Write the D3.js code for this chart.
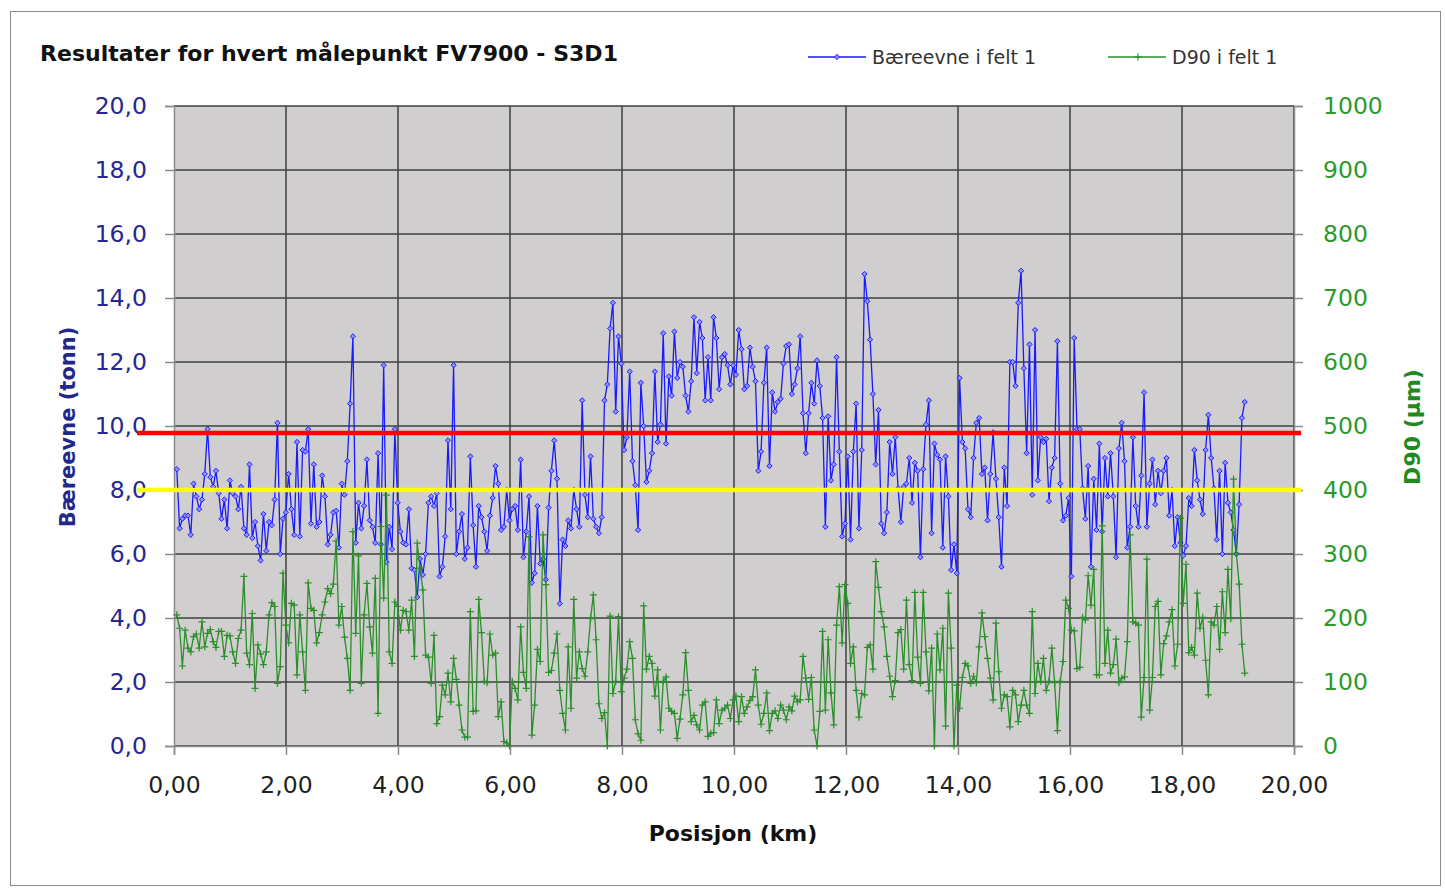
<!DOCTYPE html>
<html>
<head>
<meta charset="utf-8">
<script src="https://d3js.org/d3.v7.min.js"></script>
<style>
  body { margin: 0; background: #fff; }
  svg { font-family: "DejaVu Sans", Verdana, sans-serif; }
</style>
</head>
<body>
<div id="chart"></div>
<script>
// measuring points run from firstKm to lastKm, one value per point
var firstKm = 0.05, lastKm = 19.12;

// Bæreevne i felt 1 (tonn)
var baereevne = [
  8.65, 6.8, 7.1, 7.2, 7.2, 6.6, 8.2, 7.8, 7.4, 7.7, 8.5, 9.9, 8.4, 8.1, 8.6, 7.9, 7.1, 7.7, 6.8, 8.3,
  7.9, 7.8, 7.4, 8.1, 6.8, 6.6, 8.8, 6.5, 7.0, 6.25, 5.8, 7.25, 6.1, 7.0, 6.9, 7.7, 10.1, 6.0, 7.1, 7.3,
  8.5, 7.4, 6.6, 9.5, 6.55, 9.25, 9.2, 9.9, 6.95, 8.8,
  6.85, 7.0, 8.45, 7.8, 6.3, 6.6, 7.3, 7.35, 6.2, 8.2, 7.85, 8.9, 10.7, 12.8, 6.35, 7.6, 6.8, 7.5, 8.95, 7.05,
  6.85, 6.35, 9.15, 6.3, 11.9, 5.75, 6.85, 6.15, 9.9, 7.6, 6.7, 6.35, 6.3, 7.4, 5.55, 5.5, 4.65, 5.85, 5.35, 6.0,
  7.6, 7.8, 7.5, 7.9, 5.3, 5.6, 6.55, 9.55,
  7.4, 11.9, 6.0, 6.7, 7.25, 5.85, 6.2, 9.05, 6.9, 5.6, 7.5, 7.15, 6.7, 6.1, 7.2, 7.75, 8.75, 8.2, 6.75, 6.85,
  8.0, 7.05, 7.4, 7.5, 6.75, 8.95, 5.9, 6.7, 7.8, 5.1, 5.4, 7.5, 5.7, 5.85, 5.2, 7.45, 8.6, 9.55, 8.35, 4.45,
  6.45, 6.25, 7.05, 6.8, 8.0, 7.4, 6.85, 10.8, 7.85,
  7.15, 9.05, 7.1, 6.85, 6.65, 7.15, 10.8, 11.3, 13.05, 13.85, 10.45, 12.8, 11.95, 9.25, 9.65, 11.7, 8.9, 8.15, 6.75, 11.35,
  10.0, 8.25, 8.6, 9.15, 11.7, 9.5, 10.05, 12.9, 9.45, 11.55, 10.95, 12.95, 11.5, 12.0, 11.85, 10.95, 10.45, 11.4, 13.4, 11.65,
  13.25, 12.75, 10.8, 12.15, 10.8, 13.4,
  12.75, 11.15, 12.15, 12.25, 11.9, 11.3, 11.9, 11.6, 13.0, 12.4, 11.15, 11.25, 12.45, 11.85, 11.4, 8.6, 9.2, 11.35, 12.45, 8.75,
  11.05, 10.45, 10.75, 10.85, 11.95, 12.5, 12.55, 11.0, 11.3, 11.8, 12.8, 10.4, 9.15, 10.4, 11.35, 10.7, 12.05, 11.25, 10.25,
  6.85, 10.3, 8.3, 8.8, 12.15, 9.2, 6.55, 6.95, 9.05, 6.45,
  9.2, 10.7, 6.8, 9.25, 14.75, 13.9, 12.7, 11.0, 8.8, 10.5, 6.95, 6.65, 7.3, 9.5, 8.5, 9.65, 8.05, 7.0, 8.1, 8.2,
  9.0, 7.6, 8.85, 8.6, 5.9, 8.65, 10.05, 10.8, 6.65, 9.45, 9.1, 8.95, 6.2, 9.05, 7.8, 5.5, 6.3, 5.4, 11.5, 9.5,
  9.3, 7.4, 7.15, 9.0, 10.1, 10.25, 8.5, 8.7,
  7.05, 8.5, 9.8, 8.35, 7.15, 5.6, 8.7, 7.5, 12.0, 12.0, 11.25, 13.85, 14.85, 11.8, 9.15, 12.55, 7.85, 13.0, 8.3, 9.65,
  9.5, 9.6, 7.65, 8.7, 9.0, 12.65, 8.2, 7.05, 7.2, 7.75, 5.3, 12.75, 9.9, 9.9, 8.05, 7.1, 8.75, 5.6, 8.35, 6.75,
  9.45, 6.7, 9.0, 7.8, 9.15, 7.8, 5.9,
  9.3, 10.1, 8.9, 6.2, 6.85, 9.65, 7.5, 6.85, 8.45, 11.05, 6.85, 8.2, 8.95, 7.55, 8.6, 7.9, 8.6, 9.0, 7.2, 8.0,
  6.25, 7.15, 6.35, 5.95, 6.25, 7.75, 7.5, 9.25, 8.3, 7.7, 7.25, 9.25, 10.35, 9.0, 8.05, 6.45, 8.6, 6.0, 8.85, 7.6,
  7.3, 6.75, 6.0, 7.55, 10.25, 10.75
];

// D90 i felt 1 (µm)
var d90 = [
  205, 184, 125, 181, 153, 147, 171, 175, 153, 194, 155, 176, 182, 163, 154, 179, 179, 140, 173,
  172, 147, 129, 168, 181, 265, 145, 127, 207, 90, 158, 144, 127, 147, 205, 224, 218, 98, 124, 270,
  189, 161, 223, 220, 111, 205, 147, 87, 255,
  215, 212, 161, 177, 205, 225, 246, 238, 253, 320, 189, 218, 170, 137, 87, 335, 176, 297, 98,
  205, 254, 186, 145, 262, 51, 343, 231, 392, 147, 129, 225, 218, 181, 212, 210, 181, 228, 140,
  317, 278, 244, 142, 139, 98, 173, 35, 46, 95,
  80, 114, 69, 137, 104, 64, 25, 14, 14, 210, 54, 55, 229, 177, 101, 99, 175, 142, 145, 46,
  69, 7, 5, 0, 101, 90, 72, 186, 115, 90, 327, 17, 64, 151, 132, 330, 252, 115, 118, 145,
  175, 87, 51, 25, 155, 59, 229, 106, 147,
  121, 109, 147, 199, 236, 166, 66, 43, 52, 0, 203, 82, 101, 202, 85, 106, 120, 163, 137, 41,
  19, 9, 219, 120, 140, 129, 78, 119, 25, 101, 108, 59, 54, 51, 12, 42, 80, 146, 87, 38,
  48, 33, 25, 64, 69, 15, 20,
  21, 72, 35, 56, 59, 64, 43, 72, 78, 38, 77, 51, 61, 71, 77, 119, 64, 34, 51, 83,
  24, 51, 55, 43, 64, 56, 41, 61, 55, 78, 69, 72, 140, 106, 73, 107, 25, 0, 54, 179,
  56, 166, 83, 33, 189, 249, 161, 252,
  223, 129, 155, 87, 45, 82, 80, 154, 158, 120, 288, 248, 210, 186, 140, 109, 77, 102, 177, 182,
  120, 228, 127, 102, 240, 139, 98, 240, 147, 86, 153, 0, 175, 119, 184, 31, 239, 153, 0, 95,
  59, 107, 129, 125, 98, 109, 99, 155,
  208, 171, 137, 106, 72, 192, 116, 59, 80, 77, 30, 87, 80, 38, 64, 87, 64, 51, 210, 82,
  129, 101, 137, 87, 101, 153, 99, 24, 101, 132, 228, 215, 181, 180, 121, 123, 201, 197, 266, 220,
  276, 111, 111, 344, 129, 181, 114, 127, 167, 99,
  106, 108, 163, 330, 194, 192, 189, 45, 107, 292, 56, 107, 218, 226, 111, 160, 172, 194, 213, 125,
  159, 356, 223, 284, 146, 154, 142, 239, 184, 201, 134, 80, 194, 189, 218, 151, 241, 177, 276, 199,
  417, 301, 253, 159, 114
];

var xTicks = [0, 2, 4, 6, 8, 10, 12, 14, 16, 18, 20];
var leftTicks = [0, 2, 4, 6, 8, 10, 12, 14, 16, 18, 20];
var rightTicks = [0, 100, 200, 300, 400, 500, 600, 700, 800, 900, 1000];

// threshold lines (tonn)
var redLevel = 9.78;
var yellowLevel = 8.0;

var title = "Resultater for hvert målepunkt FV7900 - S3D1";
var legendNames = ["Bæreevne i felt 1", "D90 i felt 1"];

var W = 1445, H = 889;
var margin = {top: 106, right: 151, bottom: 143, left: 174},
    width = W - margin.left - margin.right,
    height = H - margin.top - margin.bottom;

var blue = "#1a1aff", green = "#2a8f2a";
var navy = "#262690", darkGreen = "#2a9a2a";

var locale = d3.formatLocale({decimal: ",", thousands: "", grouping: [3], currency: ["", ""]});
var fmt1 = locale.format(".1f"), fmt2 = locale.format(".2f");

var svg = d3.select("#chart")
  .append("svg")
  .attr("width", W)
  .attr("height", H);

// outer chart frame
svg.append("rect")
  .attr("x", 10.5).attr("y", 11.5)
  .attr("width", W - 15).attr("height", H - 15)
  .attr("fill", "#fff")
  .attr("stroke", "#8c8c8c");

var g = svg.append("g")
  .attr("transform", "translate(" + margin.left + "," + margin.top + ")");

var x = d3.scaleLinear().domain([0, 20]).range([0, width]);
var yL = d3.scaleLinear().domain([0, 20]).range([height, 0]);
var yR = d3.scaleLinear().domain([0, 1000]).range([height, 0]);

var step = (lastKm - firstKm) / (baereevne.length - 1);
var pos = baereevne.map(function(d, i) { return firstKm + i * step; });

g.append("rect")
  .attr("width", width).attr("height", height)
  .attr("fill", "#d0cece");

// gridlines
g.append("g").selectAll("line")
  .data(leftTicks)
  .enter().append("line")
  .attr("x1", 0).attr("x2", width)
  .attr("y1", function(d) { return yL(d); })
  .attr("y2", function(d) { return yL(d); })
  .attr("stroke", "#3f3f3f").attr("stroke-width", 1.5);

g.append("g").selectAll("line")
  .data(xTicks.slice(1))
  .enter().append("line")
  .attr("y1", 0).attr("y2", height)
  .attr("x1", function(d) { return x(d); })
  .attr("x2", function(d) { return x(d); })
  .attr("stroke", "#3f3f3f").attr("stroke-width", 1.5);

// axes
var axL = g.append("g")
  .call(d3.axisLeft(yL).tickValues(leftTicks).tickSize(9).tickPadding(18).tickFormat(fmt1));
var axR = g.append("g")
  .attr("transform", "translate(" + width + ",0)")
  .call(d3.axisRight(yR).tickValues(rightTicks).tickSize(9).tickPadding(20).tickFormat(d3.format("d")));
var axB = g.append("g")
  .attr("transform", "translate(0," + height + ")")
  .call(d3.axisBottom(x).tickValues(xTicks).tickSize(9).tickPadding(21).tickFormat(fmt2));

[axL, axR, axB].forEach(function(a) {
  a.selectAll(".domain").attr("stroke", "#8c8c8c").attr("stroke-width", 1.5);
  a.selectAll(".tick line").attr("stroke", "#8c8c8c").attr("stroke-width", 1.5);
  a.selectAll("text").style("font-size", "23.5px").style("font-family", "DejaVu Sans");
});
axL.selectAll("text").attr("fill", navy);
axR.selectAll("text").attr("fill", darkGreen);
axB.selectAll("text").attr("fill", "#222");

// Bæreevne line + diamond markers
g.append("path")
  .datum(baereevne)
  .attr("fill", "none")
  .attr("stroke", blue)
  .attr("stroke-width", 1.3)
  .attr("d", d3.line()
    .x(function(d, i) { return x(pos[i]); })
    .y(function(d) { return yL(d); }));

g.selectAll(".dot")
  .data(baereevne)
  .enter().append("path")
  .attr("class", "dot")
  .attr("d", d3.symbol(d3.symbolSquare).size(14))
  .attr("transform", function(d, i) { return "translate(" + x(pos[i]) + "," + yL(d) + ") rotate(45)"; })
  .attr("fill", "#8f8fff")
  .attr("stroke", blue)
  .attr("stroke-width", 0.9);

// D90 line + cross markers
g.append("path")
  .datum(d90)
  .attr("fill", "none")
  .attr("stroke", green)
  .attr("stroke-width", 1.3)
  .attr("d", d3.line()
    .x(function(d, i) { return x(pos[i]); })
    .y(function(d) { return yR(d); }));

g.selectAll(".dot2")
  .data(d90)
  .enter().append("path")
  .attr("class", "dot2")
  .attr("d", "M-3.5,0H3.5M0,-3.5V3.5")
  .attr("transform", function(d, i) { return "translate(" + x(pos[i]) + "," + yR(d) + ")"; })
  .attr("stroke", green)
  .attr("stroke-width", 1.2);

// threshold lines, they run a bit past the plot area
g.append("line")
  .attr("x1", -37).attr("x2", width + 7)
  .attr("y1", yL(redLevel)).attr("y2", yL(redLevel))
  .attr("stroke", "#ff0000").attr("stroke-width", 4.5);
g.append("line")
  .attr("x1", -37).attr("x2", width + 7)
  .attr("y1", yL(yellowLevel)).attr("y2", yL(yellowLevel))
  .attr("stroke", "#ffff00").attr("stroke-width", 4.5);

// title
svg.append("text")
  .attr("x", 40).attr("y", 61)
  .style("font-size", "22px")
  .style("font-weight", "bold")
  .attr("fill", "#111")
  .attr("textLength", 578)
  .attr("lengthAdjust", "spacingAndGlyphs")
  .text(title);

// legend
var leg = svg.append("g");
leg.append("line").attr("x1", 808).attr("x2", 866).attr("y1", 57).attr("y2", 57)
  .attr("stroke", blue).attr("stroke-width", 1.5);
leg.append("path")
  .attr("d", d3.symbol(d3.symbolSquare).size(14))
  .attr("transform", "translate(837,57) rotate(45)")
  .attr("fill", "#8f8fff").attr("stroke", blue).attr("stroke-width", 0.9);
leg.append("text").attr("x", 872).attr("y", 64)
  .style("font-size", "19px").attr("fill", "#333").text(legendNames[0]);

leg.append("line").attr("x1", 1108).attr("x2", 1166).attr("y1", 57).attr("y2", 57)
  .attr("stroke", green).attr("stroke-width", 1.5);
leg.append("path")
  .attr("d", "M-3.5,0H3.5M0,-3.5V3.5")
  .attr("transform", "translate(1138,57)")
  .attr("stroke", green).attr("stroke-width", 1.2);
leg.append("text").attr("x", 1172).attr("y", 64)
  .style("font-size", "19px").attr("fill", "#333").text(legendNames[1]);

// axis titles
svg.append("text")
  .attr("text-anchor", "middle")
  .attr("x", margin.left + width / 2 - 1).attr("y", 841)
  .style("font-size", "22px").style("font-weight", "bold")
  .attr("fill", "#111")
  .text("Posisjon (km)");

svg.append("text")
  .attr("text-anchor", "middle")
  .attr("transform", "translate(75,427) rotate(-90)")
  .style("font-size", "21px").style("font-weight", "bold")
  .attr("fill", "#22288a")
  .text("Bæreevne (tonn)");

svg.append("text")
  .attr("text-anchor", "middle")
  .attr("transform", "translate(1420,427) rotate(-90)")
  .style("font-size", "22px").style("font-weight", "bold")
  .attr("fill", "#1f8a1f")
  .text("D90 (µm)");
</script>
</body>
</html>
